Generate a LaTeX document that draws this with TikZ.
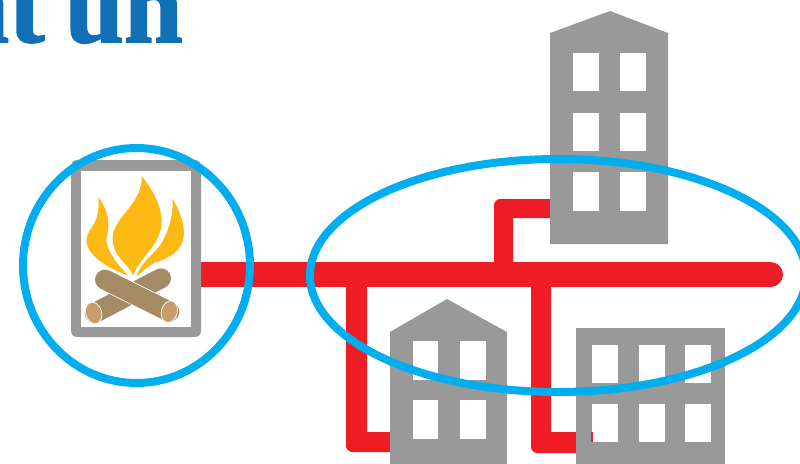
\documentclass[tikz,border=0pt]{standalone}
\usepackage{fontspec}
\setmainfont{Liberation Serif}
\newfontfamily\headfont[BoldFeatures={FakeBold=1.6}]{Liberation Serif}
\definecolor{pipe}{HTML}{EE1C25}
\definecolor{ring}{HTML}{00AEEF}
\definecolor{build}{HTML}{999999}
\definecolor{head}{HTML}{1170B5}
\definecolor{flame}{HTML}{FDB913}
\definecolor{logc}{HTML}{A58A66}
\definecolor{logend}{HTML}{C99C6E}
\tikzset{
  pipeline/.style={fill=pipe},
  building/.style={fill=build},
  window/.style={fill=white},
  ringline/.style={draw=ring,line width=8pt},
  flameshape/.style={fill=flame},
  logrod/.style={draw=logc,line width=20pt,line cap=round},
  logcut/.style={fill=logend,draw=white,line width=.7pt}
}
\begin{document}
\begin{tikzpicture}[x=1pt,y=-1pt]
\path[use as bounding box] (0,0) rectangle (800,463);
\clip (0,0) rectangle (800,463);
\fill[white] (0,0) rectangle (800,463);
\node[anchor=base east,inner sep=0pt,text=head,font=\fontsize{106}{110}\headfont\bfseries] (title) at (183,42) {at\hspace{-6pt} un};
% pipes
\draw[draw=pipe,line width=25pt,line cap=round] (195,274.5) -- (770.5,274.5);
\fill[pipeline] (346,280) -- (367,280) -- (367,432) -- (400,432) -- (400,452) -- (352,452) .. controls (349,452) and (346,449) .. (346,446) -- cycle;
\fill[pipeline] (531,280) -- (551,280) -- (551,432) -- (590,432) -- (590,453) -- (537,453) .. controls (534,453) and (531,450) .. (531,447) -- cycle;
\fill[pipeline] (494,270) -- (494,205) .. controls (494,202) and (497,199) .. (500,199) -- (560,199) -- (560,218) -- (513,218) -- (513,270) -- cycle;
% top building
\fill[building] (550,33) -- (610,11) -- (668,33) -- (668,244) -- (550,244) -- cycle;
\foreach \wx in {573,620}\foreach \wy/\wh in {53/38,113/38,172/39}
  \fill[window] (\wx,\wy) rectangle ++(26,\wh);
% left building
\fill[building] (390,332) -- (447,299) -- (507,332) -- (507,470) -- (390,470) -- cycle;
\foreach \wx in {412.5,460}\foreach \wy in {341,400}
  \fill[window] (\wx,\wy) rectangle ++(25.5,38.5);
% right building
\fill[building] (576,328) rectangle (725,470);
\foreach \wx in {592,639,685}\foreach \wy in {345,404}
  \fill[window] (\wx,\wy) rectangle ++(25.5,37.5);
\fill[pipeline] (590.5,432) rectangle (592.5,442);
% fireplace
\fill[build,rounded corners=6pt] (71,160) -- (201,160) -- (201,337) -- (71,337) -- cycle;
\fill[white] (81,171) rectangle (191,327);
\begin{scope}[shift={(0,130)},scale=1/3]
  % logs
  \draw[logrod] (284,549) -- (483,445);
  \draw[draw=white,line width=21.5pt,line cap=round] (315,449) -- (508,545);
  \draw[logrod] (315,449) -- (508,545);
  \fill[logcut] (281,549) ellipse[x radius=24pt,y radius=33pt,rotate=15];
  \fill[logcut] (508,545) ellipse[x radius=24pt,y radius=33pt,rotate=-15];
  % flames
  \fill[flameshape] (295,200) .. controls (330,250) and (330,290) .. (318,330)
     .. controls (325,375) and (360,410) .. (385,437)
     .. controls (340,420) and (290,395) .. (268,360)
     .. controls (250,330) and (265,305) .. (280,285)
     .. controls (295,260) and (298,230) .. (295,200) -- cycle;
  \fill[flameshape] (425,138) .. controls (460,180) and (490,240) .. (484,285)
     .. controls (478,350) and (415,385) .. (400,437)
     .. controls (385,400) and (335,380) .. (338,320)
     .. controls (342,260) and (430,220) .. (425,138) -- cycle;
  \fill[flameshape] (517,205) .. controls (540,245) and (555,285) .. (551,320)
     .. controls (545,365) and (505,385) .. (465,398)
     .. controls (445,408) and (425,425) .. (410,440)
     .. controls (420,395) and (470,370) .. (490,330)
     .. controls (510,290) and (522,245) .. (517,205) -- cycle;
\end{scope}
% rings
\draw[ringline] (136.5,265.5) ellipse[x radius=113.5,y radius=117.5];
\draw[ringline] (558,275.5) ellipse[x radius=248,y radius=116.5];
\end{tikzpicture}
\end{document}
